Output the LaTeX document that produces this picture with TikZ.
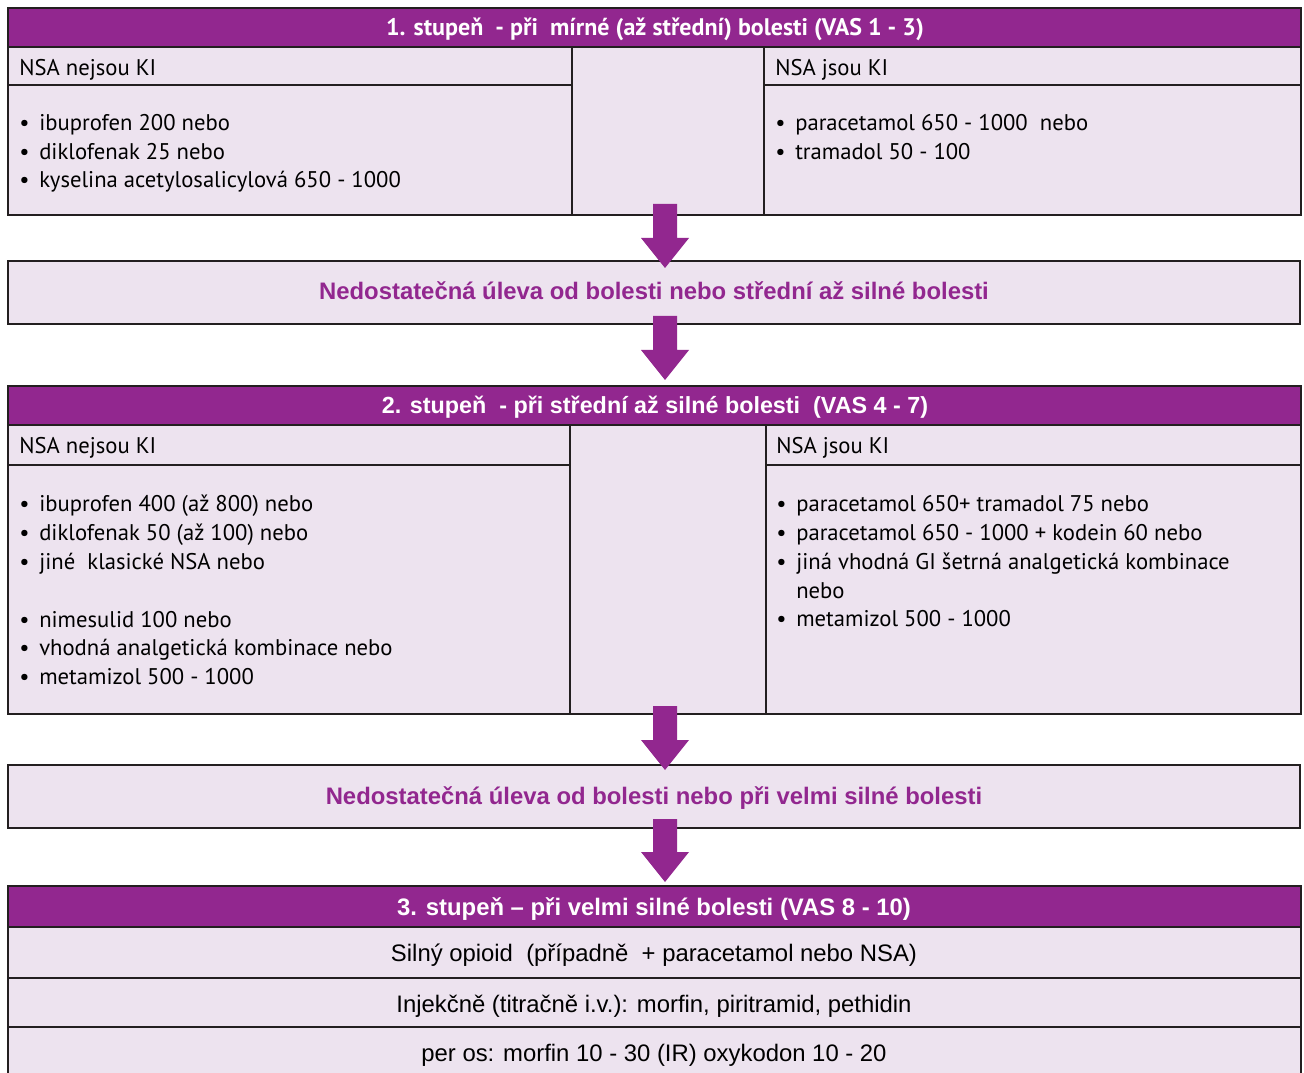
\documentclass[tikz,border=0pt]{standalone}
\usepackage{fontspec}
\setmainfont{PT Sans}
\newfontfamily\arialf{Liberation Sans}
\usetikzlibrary{calc,fit}
\definecolor{pur}{RGB}{146,39,143}
\definecolor{lite}{RGB}{237,227,239}
\definecolor{edge}{RGB}{35,31,32}
\newcommand\bul{\makebox[15pt][l]{•}}
\newcommand\blockarrow[2]{\fill[pur] ($(#1)+(-12,0)$) -- ($(#1)+(12,0)$) -- ($(#2)+(12,-30)$) -- ($(#2)+(24,-30)$) -- (#2) -- ($(#2)+(-24,-30)$) -- ($(#2)+(-12,-30)$) -- cycle;}
\begin{document}
\begin{tikzpicture}[x=0.75pt,y=-0.75pt,
  cell/.style={draw=edge, line width=1.6pt, fill=lite, inner sep=0pt},
  headcell/.style={draw=edge, line width=1.6pt, fill=pur, inner sep=0pt},
  body/.style={font=\fontsize{17}{20}\selectfont, text=black, inner sep=0pt, anchor=base west},
  headtxt/.style={text=white, inner sep=0pt, anchor=base},
  midtxt/.style={text=pur, inner sep=0pt, anchor=base, font=\arialf\bfseries\fontsize{17.9}{21}\selectfont},
  rowtxt/.style={text=black, inner sep=0pt, anchor=base, font=\arialf\fontsize{17.9}{21}\selectfont}]
\clip (0,0) rectangle (1304,1073);
\fill[white] (0,0) rectangle (1304,1073);
% ---------- block 1 ----------
\node[headcell, fit={(8,8) (1301,47)}] (h1) {};
\node[cell, fit={(8,47) (572,85)}] (l1h) {};
\node[cell, fit={(8,85) (572,215)}] (l1b) {};
\node[cell, fit={(572,47) (764,215)}] (m1) {};
\node[cell, fit={(764,47) (1301,85)}] (r1h) {};
\node[cell, fit={(764,85) (1301,215)}] (r1b) {};
\node[headtxt, font=\bfseries\fontsize{18}{21}\selectfont] (h1t) at (655,36) {1. stupeň\ \ - při\ \ mírné (až střední) bolesti (VAS 1 - 3)};
\node[body] (l1ht) at (19,76) {NSA nejsou KI};
\node[body] (l1a) at (19,131) {\bul ibuprofen 200 nebo};
\node[body] (l1b1) at (19,159.5) {\bul diklofenak 25 nebo};
\node[body] (l1c) at (19,188) {\bul kyselina acetylosalicylová 650 - 1000};
\node[body] (r1ht) at (775,76) {NSA jsou KI};
\node[body] (r1a) at (775,131) {\bul paracetamol 650 - 1000\ \ nebo};
\node[body] (r1b1) at (775,159.5) {\bul tramadol 50 - 100};
% ---------- middle box 1 ----------
\node[cell, fit={(8,261) (1300,324)}] (n1) {};
\node[midtxt] (n1t) at (654,300) {Nedostatečná úleva od bolesti nebo střední až silné bolesti};
% ---------- block 2 ----------
\node[headcell, fit={(8,386) (1301,425)}] (h2) {};
\node[cell, fit={(8,425) (570,465)}] (l2h) {};
\node[cell, fit={(8,465) (570,714)}] (l2b) {};
\node[cell, fit={(570,425) (766,714)}] (m2) {};
\node[cell, fit={(766,425) (1301,465)}] (r2h) {};
\node[cell, fit={(766,465) (1301,714)}] (r2b) {};
\node[headtxt, font=\arialf\bfseries\fontsize{17.5}{21}\selectfont] (h2t) at (655,413) {2. stupeň\ \ - při střední až silné bolesti\ \ (VAS 4 - 7)};
\node[body] (l2ht) at (19,454) {NSA nejsou KI};
\node[body] (l2a) at (19,511.5) {\bul ibuprofen 400 (až 800) nebo};
\node[body] (l2b1) at (19,540) {\bul diklofenak 50 (až 100) nebo};
\node[body] (l2c) at (19,569) {\bul jiné\ \ klasické NSA nebo};
\node[body] (l2d) at (19,627) {\bul nimesulid 100 nebo};
\node[body] (l2e) at (19,655.5) {\bul vhodná analgetická kombinace nebo};
\node[body] (l2f) at (19,684) {\bul metamizol 500 - 1000};
\node[body] (r2ht) at (776,454) {NSA jsou KI};
\node[body] (r2a) at (776,511.5) {\bul paracetamol 650+ tramadol 75 nebo};
\node[body] (r2b1) at (776,540.5) {\bul paracetamol 650 - 1000 + kodein 60 nebo};
\node[body] (r2c) at (776,569) {\bul jiná vhodná GI šetrná analgetická kombinace};
\node[body] (r2c2) at (776,598) {\hspace*{15pt}nebo};
\node[body] (r2d) at (776,626.5) {\bul metamizol 500 - 1000};
% ---------- middle box 2 ----------
\node[cell, fit={(8,765) (1300,828)}] (n2) {};
\node[midtxt] (n2t) at (654,804) {Nedostatečná úleva od bolesti nebo při velmi silné bolesti};
% ---------- block 3 ----------
\node[headcell, fit={(8,886) (1301,927)}] (h3) {};
\node[cell, fit={(8,927) (1301,978)}] (r31) {};
\node[cell, fit={(8,978) (1301,1027)}] (r32) {};
\node[cell, fit={(8,1027) (1301,1090)}] (r33) {};
\node[headtxt, font=\arialf\bfseries\fontsize{17.9}{21}\selectfont] (h3t) at (654,915) {3. stupeň – při velmi silné bolesti (VAS 8 - 10)};
\node[rowtxt] (r31t) at (654,961) {Silný opioid\ \ (případně\ \ + paracetamol nebo NSA)};
\node[rowtxt] (r32t) at (654,1012) {Injekčně (titračně i.v.): morfin, piritramid, pethidin};
\node[rowtxt] (r33t) at (654,1061) {per os: morfin 10 - 30 (IR) oxykodon 10 - 20};
% ---------- arrows ----------
\coordinate (a1s) at (665,204); \coordinate (a1e) at (665,268);
\coordinate (a2s) at (665,316); \coordinate (a2e) at (665,380);
\coordinate (a3s) at (665,706); \coordinate (a3e) at (665,770);
\coordinate (a4s) at (665,819); \coordinate (a4e) at (665,882);
\blockarrow{a1s}{a1e}
\blockarrow{a2s}{a2e}
\blockarrow{a3s}{a3e}
\blockarrow{a4s}{a4e}
\end{tikzpicture}
\end{document}
